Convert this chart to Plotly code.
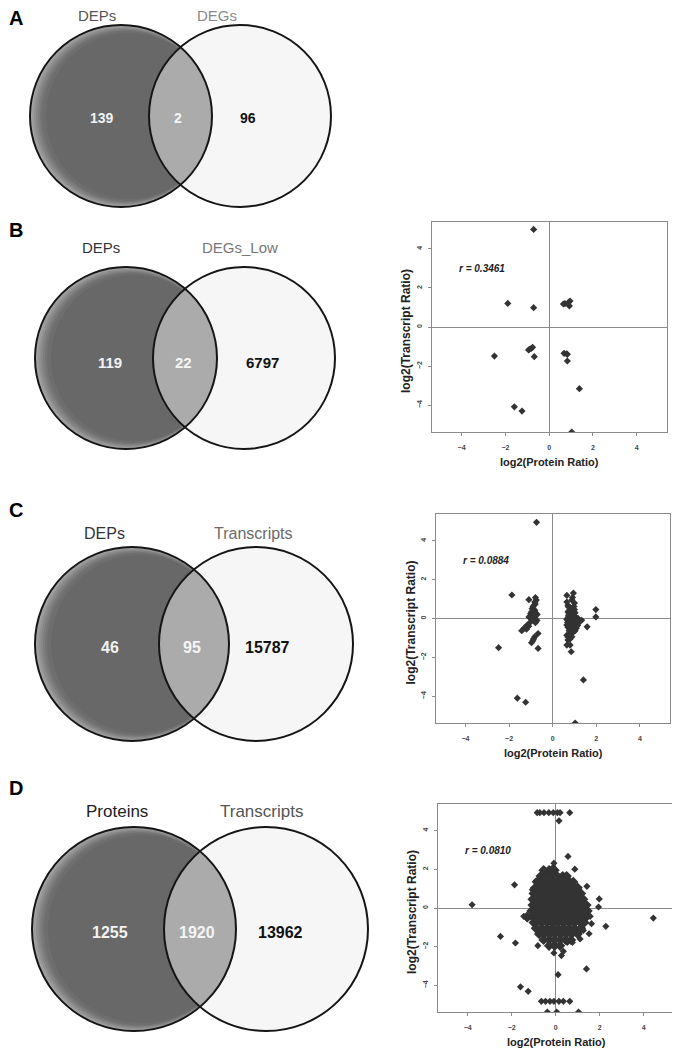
import numpy as np
import plotly.graph_objects as go

# reference is 680x1054; the page body adds an 8px margin, so the figure is
# drawn 8px smaller and every pixel position below is shifted by OFF
OFF = 8
W, H = 680 - OFF, 1054 - OFF
FONT = "Liberation Sans, Arial, sans-serif"

# ---- venn counts / labels ----
panel_letters = ["A", "B", "C", "D"]
venn_left = ["DEPs", "DEPs", "DEPs", "Proteins"]
venn_right = ["DEGs", "DEGs_Low", "Transcripts", "Transcripts"]
only_left = [139, 119, 46, 1255]
overlap = [2, 22, 95, 1920]
only_right = [96, 6797, 15787, 13962]

# ---- correlation scatter data (log2 ratios), panels B, C, D ----
r_values = ["0.3461", "0.0884", "0.0810"]
tick_vals = [-4, -2, 0, 2, 4]

b_x = [-0.71, -1.89, -0.71, 0.65, 0.95, 0.92, 0.72, -2.5, -0.94, -0.82, -0.76,
       -0.9, -0.68, 0.68, 0.83, 0.79, 0.83, 1.38, -1.59, -1.24, 1.03, 0.88]
b_y = [5.0, 1.21, 0.99, 1.18, 1.33, 1.08, 1.2, -1.49, -1.18, -1.1, -1.04,
       -1.14, -1.52, -1.35, -1.4, -1.37, -1.74, -3.16, -4.09, -4.31, -5.38, 1.25]

c_x = [-0.74, -1.87, -2.48, -1.62, -1.24, 1.41, 1.03, 1.98, 1.98, 1.58,
       -1.09, -0.79, -0.82, -0.86, -0.94, -0.82, -1.01, -0.71, -1.09, -0.86,
       -1.01, -0.79, -1.17, -1.32, -1.42, -1.24, -0.67, -0.82, -0.91, -0.97,
       -0.67, -0.75, -0.9, -0.78, -0.95, -0.72, -1.1, -0.88, -0.84, -0.96,
       -1.2, -0.8,
       0.65, 0.95, 0.91, 1.0, 0.7, 0.8, 1.0, 0.7, 1.03, 0.73,
       0.91, 1.17, 0.65, 0.8, 1.1, 1.33, 0.65, 1.0, 0.76, 1.03,
       0.65, 0.88, 0.7, 0.65, 0.8, 0.85, 0.75, 0.85, 0.95, 0.7,
       0.85, 1.0, 0.75, 0.9, 1.15, 0.7, 0.85, 0.95, 0.8, 0.7,
       0.75, 0.9, 0.65, 1.05, 1.25, 0.8, 0.72, 0.98, 0.68, 1.08,
       0.92, 0.78, 0.88]
c_y = [4.95, 1.21, -1.5, -4.1, -4.31, -3.16, -5.38, 0.46, 0.08, -0.43,
       0.97, 1.08, 0.85, 0.68, 0.51, 0.43, 0.26, 0.2, 0.08, 0.0,
       -0.17, -0.22, -0.34, -0.51, -0.63, -0.46, -0.77, -0.94, -1.15, -1.25,
       -1.54, 0.95, 0.6, 0.3, -0.05, -0.1, -0.4, -1.05, 0.15, 0.35,
       -0.55, 0.75,
       1.19, 1.31, 1.08, 0.8, 0.68, 0.56, 0.46, 0.34, 0.29, 0.17,
       0.08, 0.0, -0.05, -0.17, -0.22, -0.09, -0.34, -0.43, -0.6, -0.63,
       -0.86, -0.94, -1.11, -1.37, -1.37, -1.71, 0.4, 0.3, 0.2, 0.05,
       0.0, -0.05, -0.25, -0.3, -0.35, -0.45, -0.5, -0.7, -0.8, -0.95,
       0.15, 0.55, 0.85, 0.1, -0.15, -1.05, 0.6, 0.62, -0.2, -0.5,
       -0.15, -0.65, 0.95]

# panel D: scattered points around the dense core
d_x = [-0.84, -0.72, -0.53, -0.31, -0.11, 0.08, 0.2, 0.64,
       0.15, 0.56, -0.08, -0.15, 0.87, -0.49, -0.91, -1.87, 1.42, -1.06,
       1.98, 1.95, -3.8, 4.44, -1.45, -1.29, 1.57, 1.63, 2.28, 1.26, 1.52,
       -2.51, -1.83, -0.81, 0.53, 0.76, 1.11, -0.08, 0.26, 0.35, 0.11, 1.4,
       -1.6, -1.25,
       -0.65, -0.46, -0.26, -0.08, 0.15, 0.35, 0.64,
       -0.38, 0.05, 1.04]
d_y = [4.93, 4.93, 4.93, 4.93, 4.93, 4.93, 4.93, 4.93,
       4.51, 2.67, 2.32, 2.07, 2.01, 1.98, 1.38, 1.2, 1.12, 0.95,
       0.47, 0.05, 0.17, -0.52, -0.43, -0.57, -0.43, -0.81, -0.95, -1.16, -1.33,
       -1.47, -1.81, -1.95, -1.78, -1.78, -1.6, -2.33, -2.46, -2.24, -3.45, -3.15,
       -4.08, -4.31,
       -4.83, -4.83, -4.83, -4.83, -4.83, -4.83, -4.83,
       -5.38, -5.38, -5.38]
# panel D: dense core, read row by row (y of row, x of points)
d_core_y = [1.95, 1.65, 1.35, 1.05, 0.75, 0.45, 0.15, -0.15, -0.45, -0.75,
            -1.05, -1.35, -1.65, -1.95]
d_core_x = [
    [-0.55, -0.3, -0.05],
    [-0.68, -0.43, -0.18, 0.07, 0.32, 0.5],
    [-0.85, -0.6, -0.35, -0.1, 0.15, 0.4, 0.65, 0.8],
    [-0.93, -0.68, -0.43, -0.18, 0.07, 0.32, 0.57, 0.82, 1.0],
    [-1.0, -0.75, -0.5, -0.25, 0.0, 0.25, 0.5, 0.75, 1.0, 1.15],
    [-1.05, -0.88, -0.63, -0.38, -0.13, 0.12, 0.37, 0.62, 0.87, 1.12, 1.25],
    [-1.05, -0.8, -0.55, -0.3, -0.05, 0.2, 0.45, 0.7, 0.95, 1.2, 1.4],
    [-1.1, -0.93, -0.68, -0.43, -0.18, 0.07, 0.32, 0.57, 0.82, 1.07, 1.32, 1.45],
    [-1.3, -1.05, -0.8, -0.55, -0.3, -0.05, 0.2, 0.45, 0.7, 0.95, 1.2, 1.4],
    [-1.0, -0.88, -0.63, -0.38, -0.13, 0.12, 0.37, 0.62, 0.87, 1.12, 1.3],
    [-0.9, -0.65, -0.4, -0.15, 0.1, 0.35, 0.6, 0.85, 1.15],
    [-0.75, -0.53, -0.28, -0.03, 0.22, 0.47, 0.72, 1.0],
    [-0.55, -0.3, -0.05, 0.2, 0.45, 0.7],
    [-0.3, -0.05, 0.2],
]

# ---- layout (pixels of the reference) ----
venn_geo = [(121, 240, 116, 91), (126, 244, 358, 91), (132, 256, 644, 97), (134, 266, 929, 102)]
letter_y = [18, 230, 510, 788]
label_y = [15, 248, 533, 812]
label_x = [(97, 217), (101, 240), (105, 253), (117, 261)]
label_size = [15, 15, 16, 17]
label_col = [("#555555", "#8a8a8a"), ("#333333", "#777777"), ("#333333", "#6a6a6a"), ("#222222", "#555555")]
num_y = [118, 362, 647, 932]
num_x = [(102, 178, 248), (110, 183, 262), (110, 192, 267), (110, 197, 280)]
num_size = [14, 15, 16, 16]
boxes = [(432, 667, 222, 432), (436, 670, 514, 723), (438, 674, 804, 1012)]
rim = [(0, "#a6a6a6"), (1, "#9b9b9b"), (2, "#909090"), (3, "#868686"), (4, "#7d7d7d"),
       (5, "#757575"), (6, "#6e6e6e"), (8, "#686868")]


def px(x):
    return (x - OFF) / W


def py(y):
    return 1 - (y - OFF) / H


def circ(cx, cy, r, fill=None, line=None):
    return dict(type="circle", xref="paper", yref="paper", layer="above",
                x0=px(cx - r), x1=px(cx + r), y0=py(cy + r), y1=py(cy - r),
                fillcolor=fill or "rgba(0,0,0,0)",
                line=line or dict(width=0))


shapes = []
annotations = []
for i in range(4):
    cl, cr, cy, r = venn_geo[i]
    shapes.append(circ(cr, cy, r, "#f6f6f6"))
    # light rim on the left of the dark circle
    for s, col in rim:
        shapes.append(circ(cl + s, cy, r - s, col))
    d = cr - cl
    a = np.arccos(d / 2 / r)
    t1 = np.linspace(np.pi - a, np.pi + a, 40)
    t2 = np.linspace(-a, a, 40)
    xs = np.concatenate([cr + r * np.cos(t1), cl + r * np.cos(t2)])
    ys = np.concatenate([cy + r * np.sin(t1), cy + r * np.sin(t2)])
    path = "M " + " L ".join(f"{px(x):.5f},{py(y):.5f}" for x, y in zip(xs, ys)) + " Z"
    shapes.append(dict(type="path", xref="paper", yref="paper", layer="above",
                       path=path, fillcolor="#ababab", line=dict(width=0)))
    for c in (cr, cl):
        shapes.append(circ(c, cy, r, None, dict(color="#151515", width=2)))

    annotations.append(dict(x=px(16), y=py(letter_y[i]), text="<b>%s</b>" % panel_letters[i],
                            font=dict(size=20, color="#000"), xanchor="center", yanchor="middle"))
    for lx, txt, col in zip(label_x[i], (venn_left[i], venn_right[i]), label_col[i]):
        annotations.append(dict(x=px(lx), y=py(label_y[i]), text=txt,
                                font=dict(size=label_size[i], color=col),
                                xanchor="center", yanchor="middle"))
    for nx, val, col in zip(num_x[i], (only_left[i], overlap[i], only_right[i]),
                            ("#f2f2f2", "#f5f5f5", "#111111")):
        annotations.append(dict(x=px(nx), y=py(num_y[i]), text="<b>%d</b>" % val,
                                font=dict(size=num_size[i], color=col),
                                xanchor="center", yanchor="middle"))

for a in annotations:
    a.update(xref="paper", yref="paper", showarrow=False)

fig = go.Figure()
mk = dict(symbol="diamond", size=5.5, color="#333333")
fig.add_trace(go.Scatter(x=b_x, y=b_y, mode="markers", marker=mk, xaxis="x", yaxis="y"))
fig.add_trace(go.Scatter(x=c_x, y=c_y, mode="markers", marker=mk, xaxis="x2", yaxis="y2"))
core_x, core_y = [], []
for yy, row in zip(d_core_y, d_core_x):
    core_x += row
    core_y += [yy] * len(row)
fig.add_trace(go.Scatter(x=core_x, y=core_y, mode="markers",
                         marker=dict(symbol="diamond", size=8, color="#333333"),
                         xaxis="x3", yaxis="y3"))
fig.add_trace(go.Scatter(x=d_x, y=d_y, mode="markers", marker=mk, xaxis="x3", yaxis="y3"))

axes = {}
for k, (x0, x1, y0, y1) in enumerate(boxes):
    n = "" if k == 0 else str(k + 1)
    common = dict(showline=True, mirror=True, linecolor="#8a8a8a", linewidth=1,
                  showgrid=False, zeroline=True, zerolinecolor="#8a8a8a", zerolinewidth=1,
                  tickvals=tick_vals, ticks="outside", ticklen=3, tickcolor="#8a8a8a",
                  tickfont=dict(size=7, color="#444444", weight="bold"))
    axes["xaxis" + n] = dict(common, domain=[px(x0), px(x1)], range=[-5.35, 5.38],
                             anchor="y" + n, ticklabelstandoff=6)
    axes["yaxis" + n] = dict(common, domain=[py(y1), py(y0)], range=[-5.38, 5.38],
                             anchor="x" + n, tickangle=-90, ticklabelstandoff=3)
    annotations.append(dict(xref="x" + n, yref="y" + n, x=-4.2, y=3.0, showarrow=False,
                            text="<b><i>r = %s</i></b>" % r_values[k],
                            font=dict(size=10, color="#222222"), xanchor="left", yanchor="middle"))
    annotations.append(dict(xref="paper", yref="paper", x=px((x0 + x1) / 2), y=py(y1 + 30),
                            showarrow=False, text="<b>log2(Protein Ratio)</b>",
                            font=dict(size=11, color="#222222"), xanchor="center", yanchor="middle"))
    annotations.append(dict(xref="paper", yref="paper", x=px(x0 - 26), y=py((y0 + y1) / 2 + 4),
                            showarrow=False, text="<b>log2(Transcript Ratio)</b>", textangle=-90,
                            font=dict(size=12, color="#222222"), xanchor="center", yanchor="middle"))

fig.update_layout(width=W, height=H, margin=dict(l=0, r=0, t=0, b=0),
                  paper_bgcolor="white", plot_bgcolor="rgba(0,0,0,0)",
                  showlegend=False, font=dict(family=FONT),
                  shapes=shapes, annotations=annotations, **axes)
fig.write_html("out.html")
